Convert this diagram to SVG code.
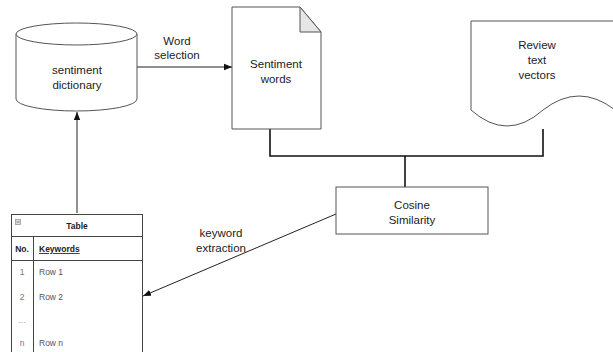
<svg xmlns="http://www.w3.org/2000/svg" width="613" height="352" viewBox="0 0 613 352">
<style>
text{font-family:"Liberation Sans",Arial,sans-serif;fill:#222;}
.lbl{font-size:11.5px;text-anchor:middle;}
.shape{fill:#fff;stroke:#555;stroke-width:1;}
.conn{fill:none;stroke:#222;stroke-width:1;}
.bus{fill:none;stroke:#111;stroke-width:1.6;}
.tb{font-size:8.5px;}
.grid{stroke:#444;stroke-width:1;fill:none;}
</style>
<defs>
<marker id="arr" viewBox="0 0 10 10" refX="10" refY="5" markerWidth="8" markerHeight="8" markerUnits="userSpaceOnUse" orient="auto">
<path d="M0,1 L10,5 L0,9 Z" fill="#111"/>
</marker>
</defs>
<rect width="613" height="352" fill="#fff"/>

<g id="connectors">
<line class="conn" x1="77" y1="213" x2="77" y2="112" marker-end="url(#arr)"/>
<line class="conn" x1="137" y1="67" x2="232" y2="67" marker-end="url(#arr)"/>
<line class="conn" x1="336" y1="214" x2="143" y2="296" marker-end="url(#arr)"/>
<path class="bus" d="M270,129 V156 H543 V129"/>
<line class="bus" x1="405" y1="156" x2="405" y2="187"/>
<text class="lbl" x="177" y="45">Word</text>
<text class="lbl" x="177" y="59">selection</text>
<text class="lbl" x="221" y="237">keyword</text>
<text class="lbl" x="221" y="252">extraction</text>
</g>

<g id="sentiment-dictionary">
<path class="shape" d="M16,34 V99 A60.5,12 0 0 0 137,99 V34 A60.5,11 0 0 0 16,34 Z"/>
<path class="shape" fill="none" d="M16,34 A60.5,11 0 0 0 137,34"/>
<text class="lbl" x="77" y="74">sentiment</text>
<text class="lbl" x="77" y="89">dictionary</text>
</g>

<g id="sentiment-words">
<path class="shape" d="M232,7 H300 L321,32 V129 H232 Z"/>
<path d="M300,7 V32 H321 Z" fill="#e6e6e6" stroke="#555" stroke-width="1"/>
<text class="lbl" x="276" y="68">Sentiment</text>
<text class="lbl" x="276" y="83">words</text>
</g>

<g id="review-text-vectors">
<path class="shape" d="M471,110 Q507,142 543,110 Q579,82 615,110 V21 H471 Z"/>
<text class="lbl" x="537" y="49">Review</text>
<text class="lbl" x="537" y="64">text</text>
<text class="lbl" x="537" y="79">vectors</text>
</g>

<g id="cosine-similarity">
<rect class="shape" x="336" y="187" width="152" height="47"/>
<text class="lbl" x="412" y="209">Cosine</text>
<text class="lbl" x="412" y="224">Similarity</text>
</g>

<g id="table">
<rect x="11.5" y="214.5" width="131" height="138" fill="#fff" stroke="#444"/>
<line class="grid" x1="11.5" y1="236.5" x2="142.5" y2="236.5"/>
<line class="grid" x1="11.5" y1="260.5" x2="142.5" y2="260.5"/>
<line class="grid" x1="33.5" y1="236.5" x2="33.5" y2="352"/>
<rect x="15.5" y="219.5" width="5" height="5" fill="#ddd" stroke="#999" stroke-width="0.8"/>
<line x1="16.5" y1="222" x2="19.5" y2="222" stroke="#666" stroke-width="0.8"/>
<text class="tb" x="77" y="229" text-anchor="middle" font-weight="bold">Table</text>
<text class="tb" x="22" y="252" text-anchor="middle" font-weight="bold">No.</text>
<text class="tb" x="39" y="252" font-weight="bold" text-decoration="underline">Keywords</text>
<text class="tb" x="22" y="275" text-anchor="middle" style="fill:#777">1</text>
<text class="tb" x="39" y="275" style="fill:#555">Row 1</text>
<text class="tb" x="22" y="300" text-anchor="middle" style="fill:#777">2</text>
<text class="tb" x="39" y="300" style="fill:#555">Row 2</text>
<text class="tb" x="22" y="323" text-anchor="middle" style="fill:#999">...</text>
<text class="tb" x="22" y="346" text-anchor="middle" style="fill:#777">n</text>
<text class="tb" x="39" y="346" style="fill:#555">Row n</text>
</g>
</svg>
